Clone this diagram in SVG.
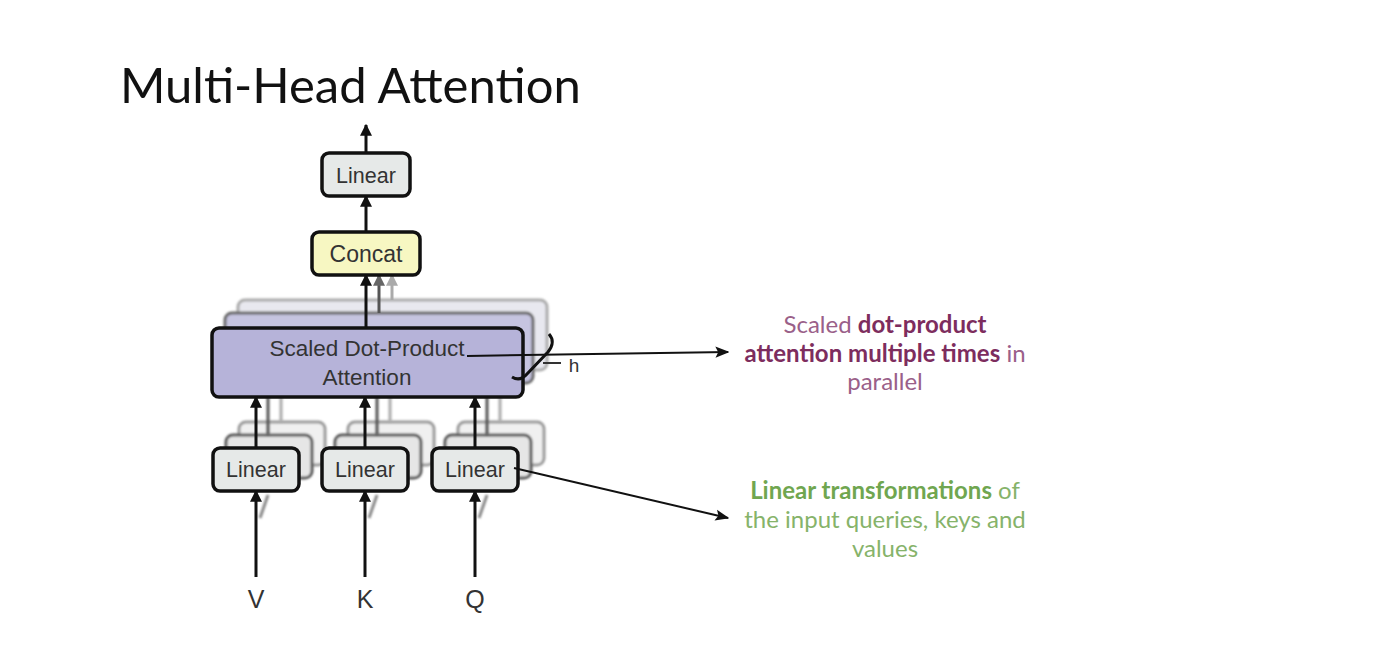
<svg xmlns="http://www.w3.org/2000/svg" width="1378" height="672" viewBox="0 0 1378 672">
<defs>
<style>
.box{stroke:#111;stroke-width:3.5}
.lin{fill:#e6e9e8}
.lbl{font-family:"Liberation Sans",Arial,sans-serif;fill:#333;text-anchor:middle}
.edge{stroke:#111;stroke-width:3;fill:none}
.ghost{stroke:#555;stroke-width:3;fill:none}
.ghost2{stroke:#aaa;stroke-width:3;fill:none}
.note{font-family:Lato,"Open Sans",sans-serif;font-size:24px;text-anchor:middle}
</style>
<filter id="blur" x="-10%" y="-10%" width="120%" height="120%"><feGaussianBlur stdDeviation="1"/></filter>
<marker id="ah" viewBox="0 0 10 10" refX="9" refY="5" markerWidth="4" markerHeight="4" orient="auto" markerUnits="strokeWidth"><path d="M0,0 L10,5 L0,10 z" fill="#111"/></marker>
<marker id="ahg" viewBox="0 0 10 10" refX="9" refY="5" markerWidth="4" markerHeight="4" orient="auto" markerUnits="strokeWidth"><path d="M0,0 L10,5 L0,10 z" fill="#666"/></marker>
<marker id="ahl" viewBox="0 0 10 10" refX="9" refY="5" markerWidth="4" markerHeight="4" orient="auto" markerUnits="strokeWidth"><path d="M0,0 L10,5 L0,10 z" fill="#aaa"/></marker>
<marker id="ahs" viewBox="0 0 10 10" refX="9" refY="5" markerWidth="7" markerHeight="7" orient="auto" markerUnits="strokeWidth"><path d="M0,1 L10,5 L0,9 L2,5 z" fill="#111"/></marker>
</defs>
<rect width="1378" height="672" fill="#fff"/>
<text x="120" y="103" font-family="Lato,'Open Sans',sans-serif" font-size="49" fill="#111">Multi-Head Attention</text>

<g id="sdpa-layers" filter="url(#blur)">
<rect x="238" y="300" width="309" height="70" rx="7" fill="#e8e8ef" stroke="#aaa" stroke-width="3"/>
<rect x="225" y="313" width="308" height="70" rx="7" fill="#c6c4e0" stroke="#666" stroke-width="3"/>
</g>
<g id="linear-layers" filter="url(#blur)">
<rect x="239" y="422" width="86" height="43" rx="7" fill="#f0f0f0" stroke="#999" stroke-width="3"/>
<rect x="226" y="435" width="86" height="43" rx="7" fill="#e6e6e6" stroke="#555" stroke-width="3"/>
<rect x="348" y="422" width="86" height="43" rx="7" fill="#f0f0f0" stroke="#999" stroke-width="3"/>
<rect x="335" y="435" width="86" height="43" rx="7" fill="#e6e6e6" stroke="#555" stroke-width="3"/>
<rect x="458" y="422" width="86" height="43" rx="7" fill="#f0f0f0" stroke="#999" stroke-width="3"/>
<rect x="445" y="435" width="86" height="43" rx="7" fill="#e6e6e6" stroke="#555" stroke-width="3"/>
</g>

<g id="connectors">
<line class="edge" x1="366" y1="153" x2="366" y2="125" marker-end="url(#ah)"/>
<line class="edge" x1="366" y1="232" x2="366" y2="196" marker-end="url(#ah)"/>
<line class="edge" x1="366" y1="328" x2="366" y2="275" marker-end="url(#ah)"/>
<line class="ghost" x1="379" y1="313" x2="379" y2="275" marker-end="url(#ahg)"/>
<line class="ghost2" x1="392" y1="300" x2="392" y2="275" marker-end="url(#ahl)"/>
<g filter="url(#blur)">
<line class="ghost" x1="268" y1="435" x2="268" y2="397"/>
<line class="ghost2" x1="281" y1="422" x2="281" y2="397"/>
<line class="ghost" x1="377" y1="435" x2="377" y2="397"/>
<line class="ghost2" x1="390" y1="422" x2="390" y2="397"/>
<line class="ghost" x1="487" y1="435" x2="487" y2="397"/>
<line class="ghost2" x1="500" y1="422" x2="500" y2="397"/>
<line stroke="#888" stroke-width="3" x1="260" y1="518" x2="268" y2="495"/>
<line stroke="#888" stroke-width="3" x1="369" y1="518" x2="377" y2="495"/>
<line stroke="#888" stroke-width="3" x1="479" y1="518" x2="487" y2="495"/>
</g>
<line class="edge" x1="256" y1="448" x2="256" y2="397" marker-end="url(#ah)"/>
<line class="edge" x1="365" y1="448" x2="365" y2="397" marker-end="url(#ah)"/>
<line class="edge" x1="475" y1="448" x2="475" y2="397" marker-end="url(#ah)"/>
<line class="edge" x1="256" y1="577" x2="256" y2="491" marker-end="url(#ah)"/>
<line class="edge" x1="365" y1="577" x2="365" y2="491" marker-end="url(#ah)"/>
<line class="edge" x1="475" y1="577" x2="475" y2="491" marker-end="url(#ah)"/>
</g>

<g id="sdpa">
<rect class="box" x="212" y="328" width="311" height="69" rx="7" fill="#b6b3d9"/>
<text class="lbl" x="367" y="356" font-size="22.5">Scaled Dot-Product</text>
<text class="lbl" x="367" y="385" font-size="22.5">Attention</text>
</g>
<g id="brace">
<path d="M549,334 Q556,342 548,352 L527,374 Q520,382 512,377" fill="none" stroke="#111" stroke-width="3"/>
<line x1="543" y1="363" x2="561" y2="363" stroke="#333" stroke-width="2"/>
<text class="lbl" x="574" y="372" font-size="19">h</text>
</g>

<g id="linear-top">
<rect class="box lin" x="322" y="153" width="88" height="43" rx="7"/>
<text class="lbl" x="366" y="183" font-size="21.5">Linear</text>
</g>
<g id="concat">
<rect class="box" x="312" y="232" width="108" height="43" rx="7" fill="#f7f7c2"/>
<text class="lbl" x="366" y="262" font-size="23">Concat</text>
</g>
<g id="linear-v">
<rect class="box lin" x="213" y="448" width="86" height="43" rx="7"/>
<text class="lbl" x="256" y="477" font-size="21.5">Linear</text>
</g>
<g id="linear-k">
<rect class="box lin" x="322" y="448" width="86" height="43" rx="7"/>
<text class="lbl" x="365" y="477" font-size="21.5">Linear</text>
</g>
<g id="linear-q">
<rect class="box lin" x="432" y="448" width="86" height="43" rx="7"/>
<text class="lbl" x="475" y="477" font-size="21.5">Linear</text>
</g>

<g id="inputs">
<text class="lbl" x="256" y="608" font-size="25">V</text>
<text class="lbl" x="365" y="608" font-size="25">K</text>
<text class="lbl" x="475" y="608" font-size="25">Q</text>
</g>

<g id="annotation-arrows">
<line x1="467" y1="356" x2="728" y2="352" stroke="#111" stroke-width="2" marker-end="url(#ahs)"/>
<line x1="514" y1="468" x2="728" y2="518" stroke="#111" stroke-width="2" marker-end="url(#ahs)"/>
</g>

<g id="note-sdpa">
<text class="note" x="885" y="333" fill="#9a6089">Scaled <tspan font-weight="bold" fill="#7d2d5e">dot-product</tspan></text>
<text class="note" x="885" y="362" fill="#9a6089"><tspan font-weight="bold" fill="#7d2d5e">attention multiple times</tspan> in</text>
<text class="note" x="885" y="390" fill="#9a6089">parallel</text>
</g>
<g id="note-linear">
<text class="note" x="885" y="499" fill="#86b36a"><tspan font-weight="bold" fill="#70a650">Linear transformations</tspan> of</text>
<text class="note" x="885" y="528" fill="#86b36a">the input queries, keys and</text>
<text class="note" x="885" y="557" fill="#86b36a">values</text>
</g>
</svg>
